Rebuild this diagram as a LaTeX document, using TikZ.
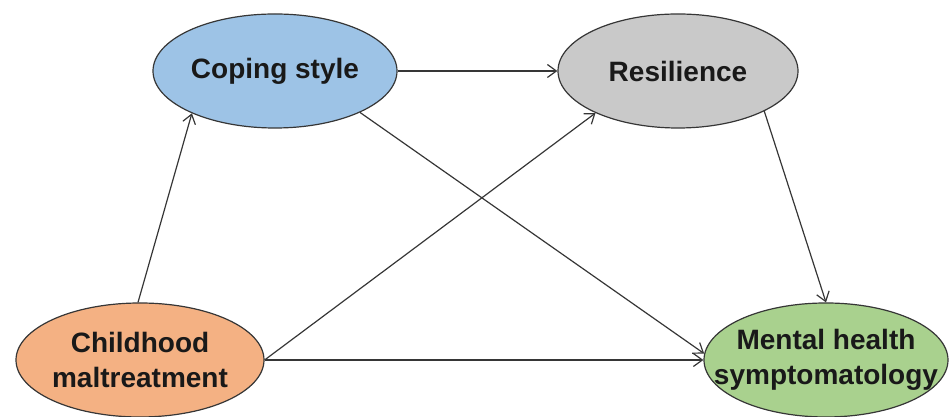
\documentclass[tikz,border=0pt]{standalone}
\usepackage{fontspec}
\setmainfont{Liberation Sans}
\usetikzlibrary{shapes.geometric,arrows.meta}
\definecolor{csblue}{HTML}{9DC3E6}
\definecolor{rsgray}{HTML}{C9C9C9}
\definecolor{cmorange}{HTML}{F4B183}
\definecolor{mhgreen}{HTML}{A9D18E}
\definecolor{edgegray}{HTML}{363636}
\begin{document}
\begin{tikzpicture}[x=0.5pt,y=0.5pt,
  ell/.style={ellipse, draw=edgegray, line width=0.6pt, inner sep=0pt, minimum height=57pt},
  lbl/.style={font=\fontsize{14}{17.5}\selectfont\bfseries, text=black!90, align=center},
  conn/.style={draw=edgegray, line width=0.6pt, -{Straight Barb[length=4.5pt,width=6.5pt]}}]
\useasboundingbox (0,0) rectangle (949,417);
\node[ell, fill=csblue, minimum width=122pt, label={[lbl]center:Coping style}] (cs) at (275,346) {};
\node[ell, fill=rsgray, minimum width=120pt, label={[lbl]center:Resilience}] (rs) at (678,346) {};
\node[ell, fill=cmorange, minimum width=124pt, label={[lbl]center:{Childhood\\maltreatment}}] (cm) at (140,57) {};
\node[ell, fill=mhgreen, minimum width=122pt, label={[lbl]center:{Mental health\\symptomatology}}] (mh) at (826,57) {};
\draw[conn] (cm.92) -- (cs.207);
\draw[conn] (cs.east) -- (rs.west);
\draw[conn] (cm.east) -- (rs.207);
\draw[conn] (cm.east) -- (mh.west);
\draw[conn] (cs.-26.6) -- (mh.177);
\draw[conn] (rs.-25.6) -- (mh.north);
\end{tikzpicture}
\end{document}
